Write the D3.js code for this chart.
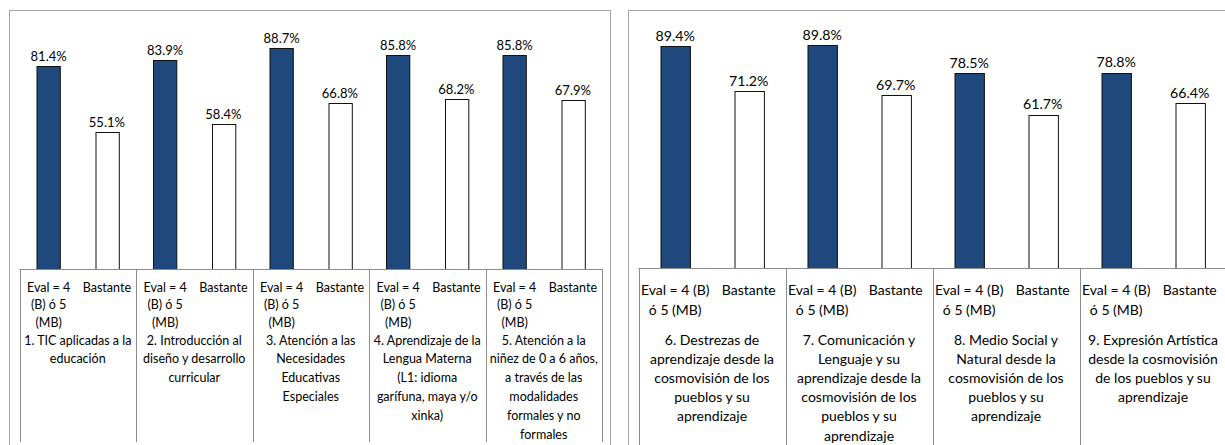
<!DOCTYPE html>
<html>
<head>
<meta charset="utf-8">
<script src="https://cdn.jsdelivr.net/npm/d3@7"></script>
<style>
  html, body { margin: 0; padding: 0; background: #fff; }
  svg { display: block; }
  text { font-family: Lato, "Open Sans", sans-serif; fill: #000; }
</style>
</head>
<body>
<svg id="chart" width="1225" height="445"></svg>
<script>
// ---------- DATA ----------
const seriesNames = ["Eval", "Bastante"];

const leftCategories = [
  ["1. TIC aplicadas a la", "educación"],
  ["2. Introducción al", "diseño y desarrollo", "curricular"],
  ["3. Atención a las", "Necesidades", "Educativas", "Especiales"],
  ["4. Aprendizaje de la", "Lengua Materna", "(L1: idioma", "garífuna, maya y/o", "xinka)"],
  ["5. Atención a la", "niñez de 0 a 6 años,", "a través de las", "modalidades", "formales y no", "formales"]
];
const leftEval =     [81.4, 83.9, 88.7, 85.8, 85.8];
const leftBastante = [55.1, 58.4, 66.8, 68.2, 67.9];
const leftSeriesLabels = [["Eval = 4", "(B) ó 5", "(MB)"], ["Bastante"]];

const rightCategories = [
  ["6. Destrezas de", "aprendizaje desde la", "cosmovisión de los", "pueblos y su", "aprendizaje"],
  ["7. Comunicación y", "Lenguaje y su", "aprendizaje desde la", "cosmovisión de los", "pueblos y su", "aprendizaje"],
  ["8. Medio Social y", "Natural desde la", "cosmovisión de los", "pueblos y su", "aprendizaje"],
  ["9. Expresión Artística", "desde la cosmovisión", "de los pueblos y su", "aprendizaje"]
];
const rightEval =     [89.4, 89.8, 78.5, 78.8];
const rightBastante = [71.2, 69.7, 61.7, 66.4];
const rightSeriesLabels = [["Eval = 4 (B)", "ó 5 (MB)"], ["Bastante"]];

const yDomain = [0, 100];

// ---------- DRAW ----------
const svg = d3.select("#chart");
const DARK = "#1F497D";

function panel(cfg) {
  const g = svg.append("g");
  // outer chart border
  g.append("rect")
    .attr("x", cfg.box[0] + 0.5).attr("y", cfg.box[1] + 0.5)
    .attr("width", cfg.box[2]).attr("height", cfg.box[3])
    .attr("fill", "none").attr("stroke", "#A6A6A6").attr("stroke-width", 1);

  const x0 = d3.scaleBand().domain(d3.range(cfg.cats.length)).range(cfg.xRange).padding(0);
  const x1 = d3.scaleBand().domain(seriesNames).range([0, x0.bandwidth()])
    .paddingInner(0.6).paddingOuter(0.3);
  const y = d3.scaleLinear().domain(yDomain).range([cfg.base, cfg.top]);

  const data = cfg.cats.map((c, i) => ({ i, vals: [cfg.eval[i], cfg.bast[i]] }));

  // bars
  const cg = g.selectAll("g.cat").data(data).join("g")
    .attr("transform", d => `translate(${x0(d.i)},0)`);
  cg.selectAll("rect").data(d => d.vals.map((v, k) => ({ k, v }))).join("rect")
    .attr("x", d => Math.round(x1(seriesNames[d.k])) + 0.5)
    .attr("y", d => Math.round(y(d.v)) + 0.5)
    .attr("width", x1.bandwidth())
    .attr("height", d => y(0) - Math.round(y(d.v)))
    .attr("fill", d => d.k === 0 ? DARK : "#fff")
    .attr("stroke", "#111").attr("stroke-width", 1);

  // value labels
  cg.selectAll("text.val").data(d => d.vals.map((v, k) => ({ k, v }))).join("text")
    .attr("class", "val")
    .attr("x", d => x1(seriesNames[d.k]) + x1.bandwidth() / 2)
    .attr("y", d => y(d.v) - cfg.valGap)
    .attr("text-anchor", "middle")
    .style("font-size", cfg.valSize + "px")
    .text(d => d.v.toFixed(1) + "%");

  // baseline
  g.append("line")
    .attr("x1", cfg.xRange[0]).attr("x2", cfg.xRange[1])
    .attr("y1", Math.round(y(0)) + 0.5).attr("y2", Math.round(y(0)) + 0.5)
    .attr("stroke", "#8C8C8C");

  // category separators
  const bounds = d3.range(cfg.cats.length + 1).map(i => i < cfg.cats.length ? x0(i) : cfg.xRange[1]);
  g.selectAll("line.sep").data(bounds).join("line")
    .attr("class", "sep")
    .attr("x1", d => Math.round(d) + 0.5).attr("x2", d => Math.round(d) + 0.5)
    .attr("y1", Math.round(y(0))).attr("y2", cfg.sepBottom)
    .attr("stroke", "#8C8C8C");

  // series labels under bars
  cg.each(function () {
    const gg = d3.select(this);
    cfg.seriesLabels.forEach((lines, k) => {
      const cx = x1(seriesNames[k]) + x1.bandwidth() / 2;
      lines.forEach((ln, j) => {
        gg.append("text")
          .attr("x", cx)
          .attr("y", cfg.serY0 + j * cfg.serStep)
          .attr("text-anchor", "middle")
          .attr("dominant-baseline", "central")
          .style("font-size", cfg.catSize + "px")
          .text(ln);
      });
    });
  });

  // category names
  cg.each(function (d) {
    const gg = d3.select(this);
    cfg.cats[d.i].forEach((ln, j) => {
      gg.append("text")
        .attr("x", x0.bandwidth() / 2)
        .attr("y", cfg.catY0 + j * cfg.catStep)
        .attr("text-anchor", "middle")
        .attr("dominant-baseline", "central")
        .style("font-size", cfg.catSize + "px")
        .text(ln);
    });
  });
}

panel({
  box: [9, 10, 601, 450],
  xRange: [19.5, 602],
  base: 269, top: 20,
  cats: leftCategories, eval: leftEval, bast: leftBastante,
  seriesLabels: leftSeriesLabels,
  valSize: 13, valGap: 5,
  catSize: 12.5, serY0: 287, serStep: 17.5, catY0: 340, catStep: 18.9,
  sepBottom: 442
});

panel({
  box: [628, 10, 620, 450],
  xRange: [638.5, 1226.5],
  base: 268, top: 20,
  cats: rightCategories, eval: rightEval, bast: rightBastante,
  seriesLabels: rightSeriesLabels,
  valSize: 14.2, valGap: 5.5,
  catSize: 14, serY0: 289, serStep: 20.7, catY0: 339.5, catStep: 19.1,
  sepBottom: 445
});
</script>
</body>
</html>
